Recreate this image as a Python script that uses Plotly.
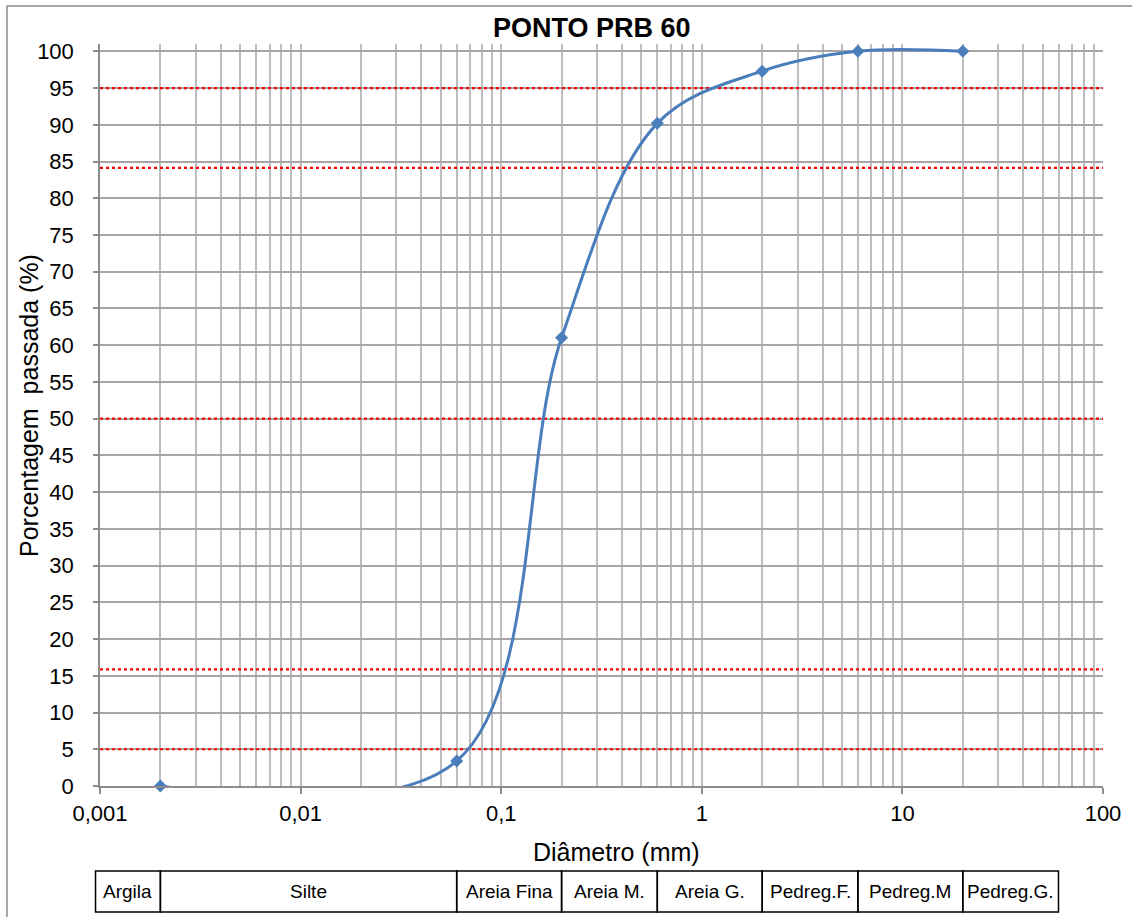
import math
import plotly.graph_objects as go

# Granulometric curve: particle diameter (mm) vs. percentage passing (%)
diametro_mm = [0.002, 0.06, 0.2, 0.6, 2, 6, 20]
passada_pct = [0.0, 3.4, 61.0, 90.2, 97.3, 100.0, 100.0]

# Reference percentiles (D5, D16, D50, D84, D95)
linhas_ref = [5, 15.87, 50, 84.13, 95]

# X axis ticks
x_ticks = [0.001, 0.01, 0.1, 1, 10, 100]
x_tick_text = ["0,001", "0,01", "0,1", "1", "10", "100"]

# Soil classification bands (upper limit of each class, mm)
classes = ["Argila", "Silte", "Areia Fina", "Areia M.", "Areia G.",
           "Pedreg.F.", "Pedreg.M", "Pedreg.G."]
limites = [0.002, 0.06, 0.2, 0.6, 2, 6, 20, 60]
limite_inicial = 0.00095

W, H = 1132, 917
L, R, T, B = 100, 29, 44, 131
PW, PH = W - L - R, H - T - B
XMIN, XMAX = 0.001, 100
YMAX = 101

FONT = "Arial, Liberation Sans, sans-serif"


def xp(v):
    """data diameter -> paper x"""
    return (math.log10(v) - math.log10(XMIN)) / (math.log10(XMAX) - math.log10(XMIN))


def px_x(p):
    return (p - L) / PW


def px_y(p):
    return (H - B - p) / PH


fig = go.Figure()

# red dotted percentile lines across the full axis width
for v in linhas_ref:
    fig.add_trace(go.Scatter(
        x=[XMIN, XMAX], y=[v, v], mode="lines",
        line=dict(color="#FF0000", width=2.2, dash="dot"),
        showlegend=False, hoverinfo="skip",
    ))

fig.add_trace(go.Scatter(
    x=diametro_mm, y=passada_pct,
    mode="lines+markers",
    line=dict(color="#4A7EBB", width=3, shape="spline", smoothing=1.0),
    marker=dict(symbol="diamond", size=10, color="#4A7EBB"),
    cliponaxis=False,
    showlegend=False,
    hoverinfo="x+y",
))

shapes = []
# outer chart border
shapes.append(dict(type="rect", xref="paper", yref="paper",
                   x0=px_x(7), x1=px_x(W + 10), y0=px_y(H + 10), y1=px_y(6),
                   line=dict(color="#8C8C8C", width=1.5), layer="below"))

# classification table
ty0, ty1 = px_y(912), px_y(871)
bounds = [limite_inicial] + limites
annotations = []
for i, nome in enumerate(classes):
    a, b = xp(bounds[i]), xp(bounds[i + 1])
    shapes.append(dict(type="rect", xref="paper", yref="paper",
                       x0=a, x1=b, y0=ty0, y1=ty1,
                       line=dict(color="#000000", width=1.5), layer="above"))
    annotations.append(dict(xref="paper", yref="paper", x=(a + b) / 2, y=(ty0 + ty1) / 2,
                            text=nome, showarrow=False, xanchor="center", yanchor="middle",
                            font=dict(family=FONT, size=19, color="#000000")))

# title and axis titles
annotations.append(dict(xref="paper", yref="paper", x=px_x(592), y=px_y(28),
                        text="<b>PONTO PRB 60</b>", showarrow=False,
                        xanchor="center", yanchor="middle",
                        font=dict(family=FONT, size=27, color="#000000")))
annotations.append(dict(xref="paper", yref="paper", x=px_x(616), y=px_y(852),
                        text="Diâmetro (mm)", showarrow=False,
                        xanchor="center", yanchor="middle",
                        font=dict(family=FONT, size=25, color="#000000")))
annotations.append(dict(xref="paper", yref="paper", x=px_x(29), y=px_y(406),
                        text="Porcentagem  passada (%)", showarrow=False, textangle=-90,
                        xanchor="center", yanchor="middle",
                        font=dict(family=FONT, size=25, color="#000000")))

fig.update_layout(
    width=W, height=H,
    margin=dict(l=L, r=R, t=T, b=B, pad=0),
    paper_bgcolor="white", plot_bgcolor="white",
    shapes=shapes, annotations=annotations,
    font=dict(family=FONT, size=22, color="#000000"),
    xaxis=dict(
        type="log", range=[math.log10(XMIN), math.log10(XMAX)],
        tickvals=x_ticks, ticktext=x_tick_text,
        showgrid=True, gridcolor="#BDBDBD", gridwidth=1.5,
        showline=True, linecolor="#8C8C8C", linewidth=1.5,
        ticks="outside", ticklen=6, tickcolor="#8C8C8C", tickwidth=1.5,
        ticklabelstandoff=1,
        minor=dict(dtick="D1", showgrid=True, gridcolor="#BDBDBD", gridwidth=1.5, ticks=""),
        zeroline=False,
    ),
    yaxis=dict(
        range=[0, YMAX], tick0=0, dtick=5,
        showgrid=True, gridcolor="#A6A6A6", gridwidth=1.5,
        showline=True, linecolor="#8C8C8C", linewidth=1.5,
        ticks="outside", ticklen=5, tickcolor="#8C8C8C", tickwidth=1.5,
        ticklabelstandoff=15,
        zeroline=False,
    ),
)

fig.write_html("out.html")
